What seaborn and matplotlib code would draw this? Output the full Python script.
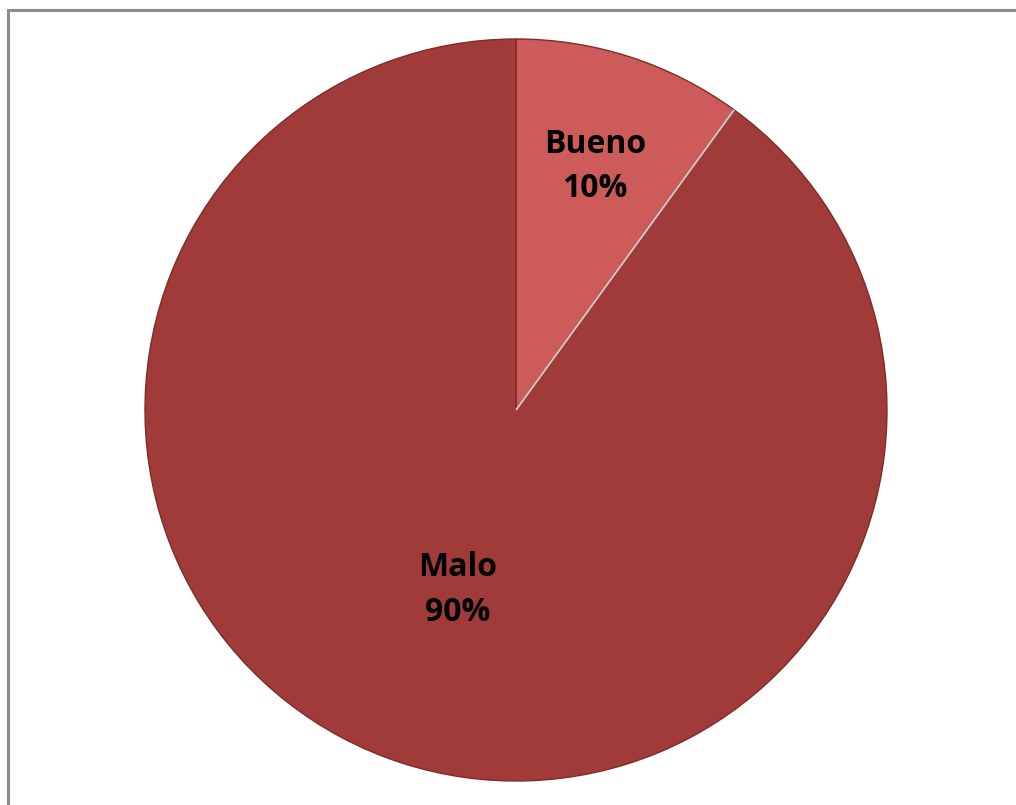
import numpy as np
import matplotlib
matplotlib.use("Agg")
import matplotlib.pyplot as plt
import seaborn as sns
from matplotlib.patches import Rectangle

# ---------------------------------
# Data
# ---------------------------------

categories = ["Bueno", "Malo"]
percent = [10, 90]
slice_colors = ["#CD5B59", "#A03B3A"]

# ---------------------------------
# Style
# ---------------------------------

sns.set_style("white")
plt.rcParams["font.family"] = ["Open Sans", "DejaVu Sans"]

fig = plt.figure(figsize=(10.16, 8.05), dpi=100)

# outer chart frame (cut off at right and bottom)
fig.patches.append(Rectangle(
    (8 / 1016, -0.1), 1.2, 1 - 10 / 805 + 0.1,
    transform=fig.transFigure, fill=False,
    edgecolor="#8c8c8c", linewidth=2.2
))

ax = fig.add_axes([145 / 1016, 24 / 805, 742 / 1016, 742 / 805])

wedges, _ = ax.pie(
    percent,
    colors=slice_colors,
    startangle=90,
    counterclock=False,
    radius=1,
    wedgeprops=dict(edgecolor="#7E2B2A", linewidth=1.0)
)
ax.set_xlim(-1, 1)
ax.set_ylim(-1, 1)

# light separator on the clockwise edge of the first slice
end_ang = np.deg2rad(90 - percent[0] * 3.6)
ax.plot([0, np.cos(end_ang)], [0, np.sin(end_ang)],
        color="#d0d0d0", linewidth=1.3, solid_capstyle="butt")

# ---------------------------------
# Labels
# ---------------------------------

label_dist = [0.69, 0.51]
start = 90
for name, val, d in zip(categories, percent, label_dist):
    mid = np.deg2rad(start - val * 3.6 / 2)
    start -= val * 3.6
    ax.text(
        d * np.cos(mid), d * np.sin(mid),
        f"{name}\n{val}%",
        ha="center", va="center",
        fontsize=23, fontweight="bold",
        linespacing=1.45, color="black"
    )

fig.savefig("out.png", dpi=100)
